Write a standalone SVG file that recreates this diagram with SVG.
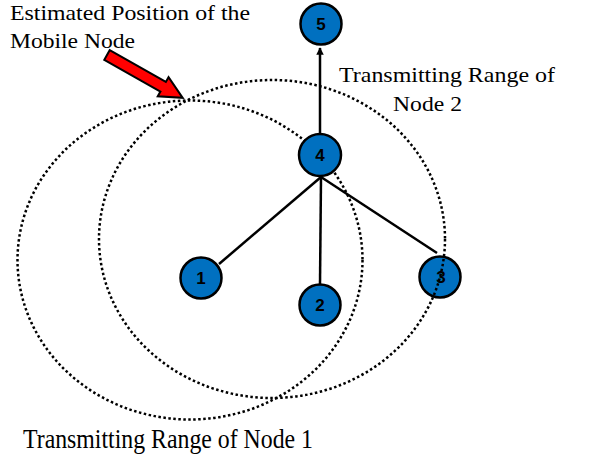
<svg xmlns="http://www.w3.org/2000/svg" width="589" height="455" viewBox="0 0 589 455">
<style>
.range{fill:none;stroke:#000;stroke-width:2.5;stroke-dasharray:2.5 2.5}
.node circle{fill:#0070C0;stroke:#000;stroke-width:2.5}
.node text{font-family:"Liberation Sans",Arial,sans-serif;font-weight:bold;font-size:17px;fill:#000;text-anchor:middle}
.edge{stroke:#000;stroke-width:2.5;fill:none}
.lbl{font-family:"Liberation Serif","Times New Roman",serif;fill:#000}
</style>
<defs>
<marker id="ah" viewBox="0 0 10 10" refX="9" refY="5" markerWidth="3" markerHeight="3" orient="auto" markerUnits="strokeWidth">
<path d="M0,0 L10,5 L0,10 z" fill="#000"/>
</marker>
</defs>
<rect width="589" height="455" fill="#fff"/>
<ellipse id="range1" class="range" cx="190" cy="260" rx="172.5" ry="159.5"/>
<g id="connectors">
<line class="edge" x1="320" y1="133" x2="320" y2="48" marker-end="url(#ah)"/>
<line class="edge" x1="321" y1="177" x2="219" y2="264"/>
<line class="edge" x1="321" y1="177" x2="320" y2="284"/>
<line class="edge" x1="321" y1="177" x2="437" y2="253"/>
</g>
<g id="node5" class="node"><circle cx="321" cy="24" r="20.5"/><text x="321" y="30">5</text></g>
<g id="node4" class="node"><circle cx="320" cy="155" r="21"/><text x="320" y="161">4</text></g>
<g id="node1" class="node"><circle cx="201" cy="278" r="20.5"/><text x="201" y="284">1</text></g>
<g id="node2" class="node"><circle cx="320" cy="305" r="20.5"/><text x="320" y="311">2</text></g>
<g id="node3" class="node"><circle cx="440" cy="277" r="20.5"/><text x="441" y="283">3</text></g>
<ellipse id="range2" class="range" cx="272" cy="239" rx="173" ry="159"/>
<g id="pointer">
<polygon transform="translate(107,55) rotate(29.5)" points="0,-5.5 64.5,-5.5 64.5,-11 87,0 64.5,11 64.5,5.5 0,5.5" fill="#ff0000" stroke="#000" stroke-width="2" stroke-linejoin="miter"/>
</g>
<g id="labels">
<text class="lbl" x="10" y="20" font-size="21" textLength="240" lengthAdjust="spacingAndGlyphs">Estimated Position of the</text>
<text class="lbl" x="10" y="48" font-size="21" textLength="125" lengthAdjust="spacingAndGlyphs">Mobile Node</text>
<text class="lbl" x="339" y="82" font-size="22" textLength="216" lengthAdjust="spacingAndGlyphs">Transmitting Range of</text>
<text class="lbl" x="393" y="111" font-size="22" textLength="69" lengthAdjust="spacingAndGlyphs">Node 2</text>
<text class="lbl" x="23" y="448" font-size="27" textLength="290" lengthAdjust="spacingAndGlyphs">Transmitting Range of Node 1</text>
</g>
</svg>
